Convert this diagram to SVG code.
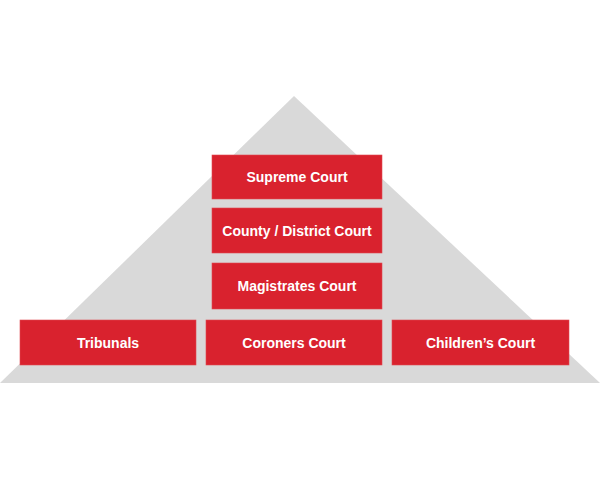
<svg xmlns="http://www.w3.org/2000/svg" width="600" height="480" viewBox="0 0 600 480">
<style>
.box{fill:#d9222e;stroke:#e04a52;stroke-width:0.6}
.lbl{font-family:"Liberation Sans",Arial,sans-serif;font-weight:bold;font-size:14px;fill:#ffffff;text-anchor:middle}
</style>
<rect width="600" height="480" fill="#ffffff"/>
<polygon points="294,96 600,383 0,383" fill="#d9d9d9"/>
<g id="connectors"></g>
<g id="supreme"><rect class="box" x="212" y="155" width="170" height="44"/><text class="lbl" x="297" y="182">Supreme Court</text></g>
<g id="county"><rect class="box" x="212" y="208" width="170" height="45"/><text class="lbl" x="297" y="235.5">County / District Court</text></g>
<g id="magistrates"><rect class="box" x="212" y="263" width="170" height="46"/><text class="lbl" x="297" y="291">Magistrates Court</text></g>
<g id="tribunals"><rect class="box" x="20" y="320" width="176" height="45"/><text class="lbl" x="108" y="347.5">Tribunals</text></g>
<g id="coroners"><rect class="box" x="206" y="320" width="176" height="45"/><text class="lbl" x="294" y="347.5">Coroners Court</text></g>
<g id="childrens"><rect class="box" x="392" y="320" width="177" height="45"/><text class="lbl" x="480.5" y="347.5">Children’s Court</text></g>
</svg>
